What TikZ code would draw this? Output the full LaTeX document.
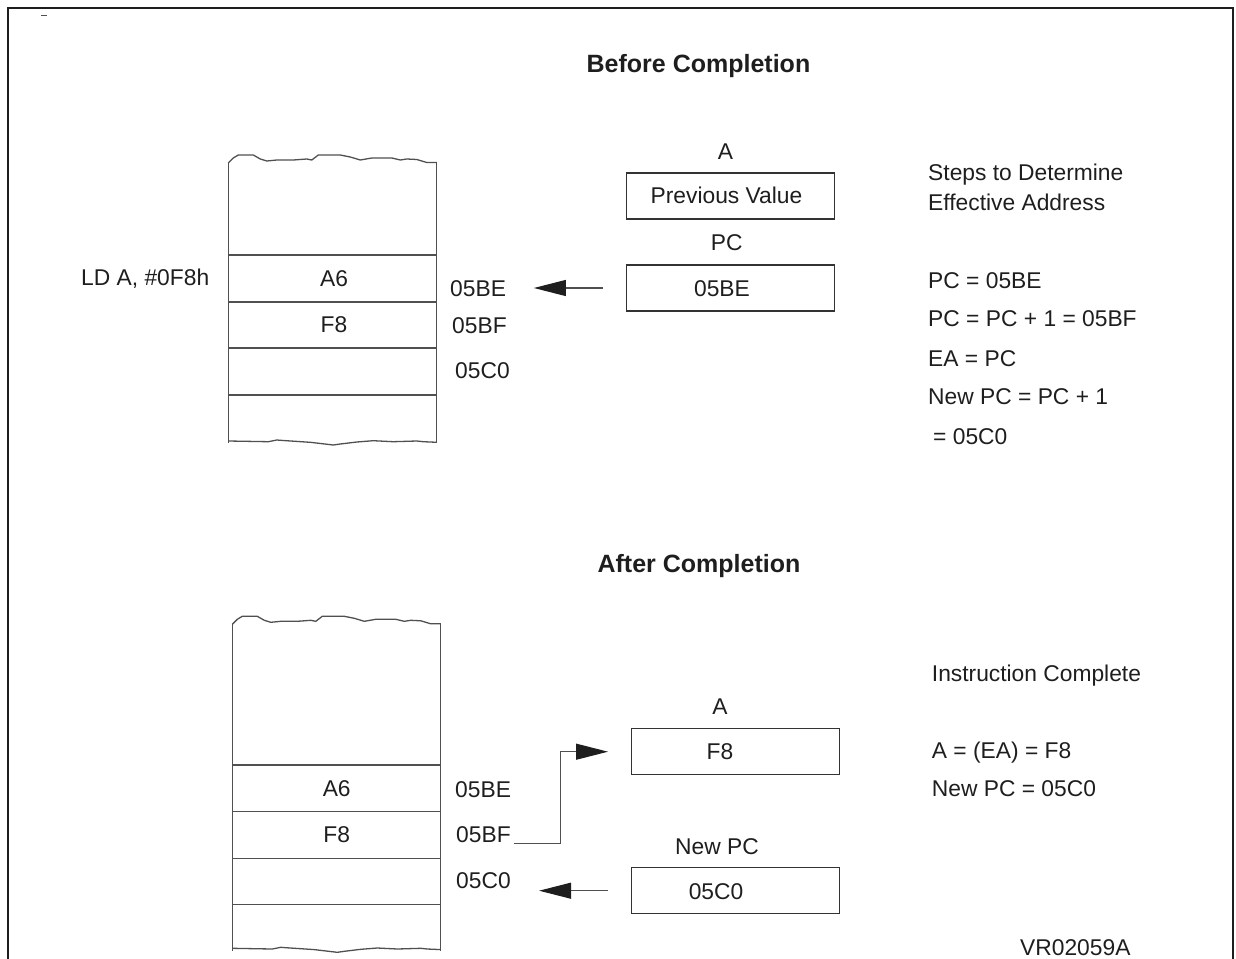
\documentclass[tikz,border=0pt]{standalone}
\usepackage{fontspec}
\setmainfont{Liberation Sans}
\usetikzlibrary{arrows.meta}
\definecolor{ink}{HTML}{1E1E1E}
\definecolor{memc}{HTML}{505050}
\definecolor{boxc}{HTML}{333333}
\begin{document}
\begin{tikzpicture}[x=1pt,y=-1pt,
  txt/.style={inner sep=0pt, anchor=base, font=\fontsize{22.8}{27}\selectfont, text=ink},
  ltxt/.style={txt, anchor=base west},
  ttl/.style={inner sep=0pt, anchor=base, font=\fontsize{25}{30}\selectfont\bfseries, text=ink},
  regbox/.style={draw=boxc, line width=1.4pt, minimum width=208pt, minimum height=46pt, inner sep=0pt, anchor=north west},
  memline/.style={draw=memc, line width=1.3pt},
  arr/.style={draw=memc, line width=1.1pt, -{Triangle[length=32pt,width=16pt,color=ink]}},
  wavetop/.pic={\draw[memline] plot coordinates {(0,0) (2,-2) (5,-5) (10,-8) (25,-8) (32,-4) (38.5,-2) (48.5,-3) (65,-3) (78.5,-4) (83.5,-3) (90,-8) (112,-8) (122,-6) (132,-3) (143.5,-5) (163.5,-5) (172,-3) (178.5,-4) (188.5,-3.5) (198.5,-0.5) (208.5,-0.5)};},
  wavebot/.pic={\draw[memline] plot coordinates {(0,0) (40,0.7) (48.5,-1) (55,-0.5) (82,1.3) (105,4) (112,3) (128.5,1) (145,-0.3) (165,0.7) (188.5,0) (195,0.7) (208.5,1.3)};}
]
\useasboundingbox (0,0) rectangle (1236,958);
% frame
\draw[line width=2.5pt, draw=ink] (8,960) -- (8,8) -- (1233,8) -- (1233,960);
\draw[line width=1.2pt, draw=memc] (41,15.3) -- (47,15.3);

% ---------- Before Completion ----------
\node[ttl] (t1) at (698.5,72.6) {Before Completion};

% memory block (top)
\pic at (228.3,163) {wavetop};
\pic at (228.3,441) {wavebot};
\draw[memline] (228.3,163) -- (228.3,443);
\draw[memline] (436.7,162.5) -- (436.7,443);
\foreach \yy in {255,302,348,395} \draw[memline] (228.3,\yy) -- (436.7,\yy);
\node[txt] (ma6) at (334,286.7) {A6};
\node[txt] (mf8) at (334,332.7) {F8};
\node[ltxt] (lbe) at (450,296.7) {05BE};
\node[ltxt] (lbf) at (452,333) {05BF};
\node[ltxt] (lc0) at (455,378.3) {05C0};
\node[ltxt] (ld) at (81,285) {LD A, \#0F8h};

% registers (top)
\node[txt] (ha) at (725.5,159) {A};
\node[regbox] (prev) at (625.7,172.3) {};
\node[txt] (prevt) at (726.5,203.3) {Previous Value};
\node[txt] (hpc) at (726.7,250) {PC};
\node[regbox] (pc) at (625.7,264.3) {};
\node[txt] (pct) at (722,296.7) {05BE};
\draw[arr, shorten <=22.7pt, shorten >=27.7pt] (pc.west) -- (pc.west -| lbe.east);

% steps
\node[ltxt] (s1) at (928,180) {Steps to Determine};
\node[ltxt] (s2) at (928,210.5) {Effective Address};
\node[ltxt] (s3) at (928,288) {PC = 05BE};
\node[ltxt] (s4) at (928,326.7) {PC = PC + 1 = 05BF};
\node[ltxt] (s5) at (928,366) {EA = PC};
\node[ltxt] (s6) at (928,404) {New PC = PC + 1};
\node[ltxt] (s7) at (933,444) {= 05C0};

% ---------- After Completion ----------
\node[ttl] (t2) at (699,572) {After Completion};

% memory block (bottom)
\pic at (232.3,624.3) {wavetop};
\pic at (232.3,948.3) {wavebot};
\draw[memline] (232.3,624.3) -- (232.3,950.5);
\draw[memline] (440.7,623.8) -- (440.7,950.5);
\foreach \yy in {765,811.7,858.3,904.3} \draw[memline] (232.3,\yy) -- (440.7,\yy);
\node[txt] (mb6) at (336.7,796) {A6};
\node[txt] (mbf8) at (336.7,842.7) {F8};
\node[ltxt] (bbe) at (455,797.3) {05BE};
\node[ltxt] (bbf) at (456,842.7) {05BF};
\node[ltxt] (bc0) at (456,888.3) {05C0};

% registers (bottom)
\node[txt] (hb) at (720,714) {A};
\node[regbox] (abox) at (630.7,728) {};
\node[txt] (aboxt) at (720,759) {F8};
\node[txt] (hnpc) at (717,854) {New PC};
\node[regbox] (npc) at (630.7,867) {};
\node[txt] (npct) at (716,899) {05C0};

\coordinate (cstart) at ([shift={(3.5,1)}]bbf.base east);
\coordinate (bend) at (560.7,843.7);
\draw[arr, shorten >=22.7pt] (cstart) -- (cstart -| bend) |- (abox.west);
\draw[arr, shorten <=23pt, shorten >=28.2pt] (npc.west) -- (npc.west -| bc0.east);

\node[ltxt] (r1) at (931.7,681.7) {Instruction Complete};
\node[ltxt] (r2) at (931.7,758.3) {A = (EA) = F8};
\node[ltxt] (r3) at (931.7,796.7) {New PC = 05C0};

\node[ltxt] (vr) at (1020,955) {VR02059A};
\end{tikzpicture}
\end{document}
